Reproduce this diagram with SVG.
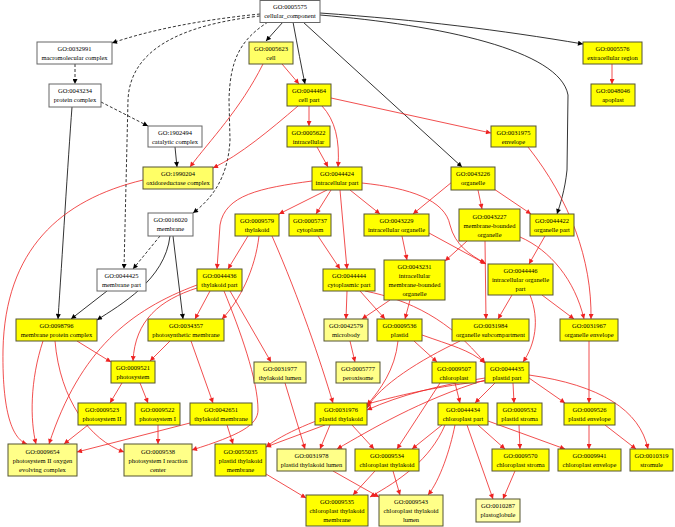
<svg xmlns="http://www.w3.org/2000/svg" width="675" height="527" viewBox="0 0 675 527">
<style>
.n rect{stroke:#555533;stroke-width:1}
.w rect{fill:#fff;stroke:#666}
.y1 rect{fill:#ffff00}
.y2 rect{fill:#ffff66}
.y3 rect{fill:#ffff88}
.y4 rect{fill:#ffffaa}
text{font-family:"Liberation Serif","DejaVu Serif",serif;font-size:6.5px;fill:#000;text-anchor:middle}
.e path{fill:none;stroke-width:0.8}
.k{stroke:#000;marker-end:url(#ak)}
.d{stroke:#000;stroke-dasharray:3,2;marker-end:url(#ak)}
.r{stroke:#ee2222;marker-end:url(#ar)}
</style>
<defs>
<marker id="ak" viewBox="0 0 10 10" refX="10" refY="5" markerUnits="userSpaceOnUse" markerWidth="6" markerHeight="5" orient="auto"><path d="M0,0L10,5L0,10z" fill="#000"/></marker>
<marker id="ar" viewBox="0 0 10 10" refX="10" refY="5" markerUnits="userSpaceOnUse" markerWidth="6" markerHeight="5" orient="auto"><path d="M0,0L10,5L0,10z" fill="#ee2222"/></marker>
</defs>
<rect width="675" height="527" fill="#fff"/>
<g class="e" id="edges">
<path class="k" d="M283,22L266,41"/>
<path class="k" d="M293,22Q300,60 305,84"/>
<path class="k" d="M303,22L462,167"/>
<path class="k" d="M320,13C420,20 500,30 583,44"/>
<path class="k" d="M320,15C440,25 560,50 568,95L567,170C565,190 560,205 557,214"/>
<path class="k" d="M72,107C68,160 62,260 58,319"/>
<path class="k" d="M175,147L177,167"/>
<path class="k" d="M170,236C165,280 120,305 97,320"/>
<path class="k" d="M173,236L183,319"/>
<path class="k" d="M107,291L71,319"/>
<path class="d" d="M260,14C200,20 150,30 112,43"/>
<path class="d" d="M260,16C180,25 130,50 128,100L124,269"/>
<path class="d" d="M268,22C240,40 230,60 229,100L230,140C228,180 210,200 193,213"/>
<path class="d" d="M75,64L75,84"/>
<path class="d" d="M101,102L148,126"/>
<path class="d" d="M160,236L133,269"/>
<path class="r" d="M282,64L299,84"/>
<path class="r" d="M263,64C240,110 210,140 190,167"/>
<path class="r" d="M298,106C270,130 240,155 213,168"/>
<path class="r" d="M309,106L309,126"/>
<path class="r" d="M322,106C335,120 340,140 338,167"/>
<path class="r" d="M331,98L491,133"/>
<path class="r" d="M317,147L328,167"/>
<path class="r" d="M327,190L279,214"/>
<path class="r" d="M331,190L316,214"/>
<path class="r" d="M350,190L380,214"/>
<path class="r" d="M340,190L347,269"/>
<path class="r" d="M312,181C260,188 225,195 220,225L217,269"/>
<path class="r" d="M362,183C410,188 445,200 450,225C455,245 470,255 485,263"/>
<path class="r" d="M452,182L413,214"/>
<path class="r" d="M478,190L482,209"/>
<path class="r" d="M494,189L531,214"/>
<path class="r" d="M402,236L407,260"/>
<path class="r" d="M429,233L486,264"/>
<path class="r" d="M467,241L445,261"/>
<path class="r" d="M485,241L486,319"/>
<path class="r" d="M520,237C550,250 575,280 584,319"/>
<path class="r" d="M528,147C570,200 592,260 591,319"/>
<path class="r" d="M545,236L529,264"/>
<path class="r" d="M512,295L498,319"/>
<path class="r" d="M542,295L574,319"/>
<path class="r" d="M530,295C540,320 535,345 523,362"/>
<path class="r" d="M318,236L340,269"/>
<path class="r" d="M248,236L228,269"/>
<path class="r" d="M259,236C255,270 240,300 222,319"/>
<path class="r" d="M272,236C300,300 320,360 333,403"/>
<path class="r" d="M210,291L195,319"/>
<path class="r" d="M197,288C160,300 135,320 133,361"/>
<path class="r" d="M197,285C130,310 80,350 49,444"/>
<path class="r" d="M230,291L271,362"/>
<path class="r" d="M224,291C240,330 258,380 258,410C258,425 240,435 192,450"/>
<path class="r" d="M77,341L111,362"/>
<path class="r" d="M43,341C30,380 30,420 36,444"/>
<path class="r" d="M55,341C60,400 90,440 124,452"/>
<path class="r" d="M143,180C60,200 5,250 3,350C2,420 15,440 27,444"/>
<path class="r" d="M170,341L150,361"/>
<path class="r" d="M191,341L213,403"/>
<path class="r" d="M122,383L110,403"/>
<path class="r" d="M140,383L148,403"/>
<path class="r" d="M88,425L64,444"/>
<path class="r" d="M158,425L158,444"/>
<path class="r" d="M190,423L77,452"/>
<path class="r" d="M227,425L233,444"/>
<path class="r" d="M347,291L346,319"/>
<path class="r" d="M360,291L385,319"/>
<path class="r" d="M365,291C410,300 450,320 485,363"/>
<path class="r" d="M390,300L362,319"/>
<path class="r" d="M410,300L405,319"/>
<path class="r" d="M350,341L355,362"/>
<path class="r" d="M414,341L437,362"/>
<path class="r" d="M422,335C450,345 470,350 485,363"/>
<path class="r" d="M398,341C395,370 380,390 367,405"/>
<path class="r" d="M460,341C420,360 380,385 367,408"/>
<path class="r" d="M589,341L589,403"/>
<path class="r" d="M455,383L460,403"/>
<path class="r" d="M440,383L397,449"/>
<path class="r" d="M495,383L475,403"/>
<path class="r" d="M513,383L514,403"/>
<path class="r" d="M529,378L565,403"/>
<path class="r" d="M529,375C600,385 640,410 648,449"/>
<path class="r" d="M485,378C440,385 400,395 367,410"/>
<path class="r" d="M485,380C420,400 370,430 337,449"/>
<path class="r" d="M485,381C400,390 300,420 266,447"/>
<path class="r" d="M325,425L266,447"/>
<path class="r" d="M330,425L320,449"/>
<path class="r" d="M352,425L374,449"/>
<path class="r" d="M285,383L305,449"/>
<path class="r" d="M442,425L412,449"/>
<path class="r" d="M478,425L505,449"/>
<path class="r" d="M488,421L565,449"/>
<path class="r" d="M467,425L493,499"/>
<path class="r" d="M455,425C450,450 440,480 428,495"/>
<path class="r" d="M445,425C430,460 400,480 370,497"/>
<path class="r" d="M519,425L520,449"/>
<path class="r" d="M589,425L589,449"/>
<path class="r" d="M605,425L636,449"/>
<path class="r" d="M515,471L503,499"/>
<path class="r" d="M375,471L353,495"/>
<path class="r" d="M393,471L400,495"/>
<path class="r" d="M266,474L306,498"/>
<path class="r" d="M333,471L379,497"/>
<path class="r" d="M612,64L612,84"/>
</g>
<g id="n0005575" class="n w"><rect x="260" y="0.5" width="60" height="22"/><text x="290" y="9">GO:0005575</text><text x="290" y="18">cellular_component</text></g>
<g id="n0032991" class="n w"><rect x="37" y="42" width="75" height="22"/><text x="74.5" y="50.5">GO:0032991</text><text x="74.5" y="59.5">macromolecular complex</text></g>
<g id="n0043234" class="n w"><rect x="49" y="84" width="52" height="23"/><text x="75" y="93">GO:0043234</text><text x="75" y="102">protein complex</text></g>
<g id="n1902494" class="n w"><rect x="148" y="126" width="54" height="21"/><text x="175" y="134.5">GO:1902494</text><text x="175" y="143.5">catalytic complex</text></g>
<g id="n1990204" class="n y2"><rect x="143" y="167" width="70" height="22"/><text x="178" y="175.5">GO:1990204</text><text x="178" y="184.5">oxidoreductase complex</text></g>
<g id="n0016020" class="n w"><rect x="148" y="213" width="45" height="23"/><text x="170.5" y="222">GO:0016020</text><text x="170.5" y="231">membrane</text></g>
<g id="n0044425" class="n w"><rect x="97" y="269" width="49" height="22"/><text x="121.5" y="277.5">GO:0044425</text><text x="121.5" y="286.5">membrane part</text></g>
<g id="n0098796" class="n y1"><rect x="16" y="319" width="81" height="22"/><text x="56.5" y="327.5">GO:0098796</text><text x="56.5" y="336.5">membrane protein complex</text></g>
<g id="n0034357" class="n y1"><rect x="148" y="319" width="76" height="22"/><text x="186" y="327.5">GO:0034357</text><text x="186" y="336.5">photosynthetic membrane</text></g>
<g id="n0009521" class="n y1"><rect x="111" y="361" width="44" height="22"/><text x="133" y="369.5">GO:0009521</text><text x="133" y="378.5">photosystem</text></g>
<g id="n0044436" class="n y1"><rect x="197" y="269" width="45" height="22"/><text x="219.5" y="277.5">GO:0044436</text><text x="219.5" y="286.5">thylakoid part</text></g>
<g id="n0009523" class="n y1"><rect x="78" y="403" width="48" height="22"/><text x="102" y="411.5">GO:0009523</text><text x="102" y="420.5">photosystem II</text></g>
<g id="n0009522" class="n y1"><rect x="135" y="403" width="45" height="22"/><text x="157.5" y="411.5">GO:0009522</text><text x="157.5" y="420.5">photosystem I</text></g>
<g id="n0042651" class="n y1"><rect x="190" y="403" width="62" height="22"/><text x="221" y="411.5">GO:0042651</text><text x="221" y="420.5">thylakoid membrane</text></g>
<g id="n0009654" class="n y3"><rect x="8" y="444" width="69" height="32"/><text x="42.5" y="453.5">GO:0009654</text><text x="42.5" y="462.5">photosystem II oxygen</text><text x="42.5" y="471.5">evolving complex</text></g>
<g id="n0009538" class="n y3"><rect x="124" y="444" width="68" height="32"/><text x="158" y="453.5">GO:0009538</text><text x="158" y="462.5">photosystem I reaction</text><text x="158" y="471.5">center</text></g>
<g id="n0055035" class="n y1"><rect x="215" y="444" width="51" height="32"/><text x="240.5" y="453.5">GO:0055035</text><text x="240.5" y="462.5">plastid thylakoid</text><text x="240.5" y="471.5">membrane</text></g>
<g id="n0031977" class="n y3"><rect x="254" y="362" width="52" height="21"/><text x="280" y="370.5">GO:0031977</text><text x="280" y="379.5">thylakoid lumen</text></g>
<g id="n0009579" class="n y1"><rect x="235" y="214" width="44" height="22"/><text x="257" y="222.5">GO:0009579</text><text x="257" y="231.5">thylakoid</text></g>
<g id="n0005737" class="n y1"><rect x="289" y="214" width="42" height="22"/><text x="310" y="222.5">GO:0005737</text><text x="310" y="231.5">cytoplasm</text></g>
<g id="n0043229" class="n y1"><rect x="364" y="214" width="65" height="22"/><text x="396.5" y="222.5">GO:0043229</text><text x="396.5" y="231.5">intracellular organelle</text></g>
<g id="n0044424" class="n y1"><rect x="312" y="167" width="50" height="23"/><text x="337" y="176">GO:0044424</text><text x="337" y="185">intracellular part</text></g>
<g id="n0005622" class="n y1"><rect x="287" y="126" width="43" height="21"/><text x="308.5" y="134.5">GO:0005622</text><text x="308.5" y="143.5">intracellular</text></g>
<g id="n0005623" class="n y2"><rect x="249" y="42" width="44" height="22"/><text x="271" y="50.5">GO:0005623</text><text x="271" y="59.5">cell</text></g>
<g id="n0044464" class="n y1"><rect x="287" y="84" width="44" height="22"/><text x="309" y="92.5">GO:0044464</text><text x="309" y="101.5">cell part</text></g>
<g id="n0005576" class="n y1"><rect x="583" y="42" width="59" height="22"/><text x="612.5" y="50.5">GO:0005576</text><text x="612.5" y="59.5">extracellular region</text></g>
<g id="n0048046" class="n y1"><rect x="591" y="84" width="44" height="22"/><text x="613" y="92.5">GO:0048046</text><text x="613" y="101.5">apoplast</text></g>
<g id="n0031975" class="n y1"><rect x="491" y="126" width="45" height="21"/><text x="513.5" y="134.5">GO:0031975</text><text x="513.5" y="143.5">envelope</text></g>
<g id="n0043226" class="n y1"><rect x="451" y="167" width="44" height="23"/><text x="473" y="176">GO:0043226</text><text x="473" y="185">organelle</text></g>
<g id="n0043227" class="n y1"><rect x="459" y="209" width="61" height="32"/><text x="489.5" y="218.5">GO:0043227</text><text x="489.5" y="227.5">membrane-bounded</text><text x="489.5" y="236.5">organelle</text></g>
<g id="n0044422" class="n y1"><rect x="530" y="214" width="44" height="22"/><text x="552" y="222.5">GO:0044422</text><text x="552" y="231.5">organelle part</text></g>
<g id="n0043231" class="n y1"><rect x="384" y="260" width="61" height="40"/><text x="414.5" y="268.5">GO:0043231</text><text x="414.5" y="277.5">intracellular</text><text x="414.5" y="286.5">membrane-bounded</text><text x="414.5" y="295.5">organelle</text></g>
<g id="n0044444" class="n y1"><rect x="323" y="269" width="52" height="22"/><text x="349" y="277.5">GO:0044444</text><text x="349" y="286.5">cytoplasmic part</text></g>
<g id="n0044446" class="n y1"><rect x="488" y="264" width="65" height="31"/><text x="520.5" y="273">GO:0044446</text><text x="520.5" y="282">intracellular organelle</text><text x="520.5" y="291">part</text></g>
<g id="n0042579" class="n y3"><rect x="324" y="319" width="44" height="22"/><text x="346" y="327.5">GO:0042579</text><text x="346" y="336.5">microbody</text></g>
<g id="n0009536" class="n y1"><rect x="377" y="319" width="45" height="22"/><text x="399.5" y="327.5">GO:0009536</text><text x="399.5" y="336.5">plastid</text></g>
<g id="n0031984" class="n y1"><rect x="452" y="319" width="77" height="22"/><text x="490.5" y="327.5">GO:0031984</text><text x="490.5" y="336.5">organelle subcompartment</text></g>
<g id="n0031967" class="n y1"><rect x="560" y="319" width="58" height="22"/><text x="589" y="327.5">GO:0031967</text><text x="589" y="336.5">organelle envelope</text></g>
<g id="n0005777" class="n y3"><rect x="336" y="362" width="44" height="21"/><text x="358" y="370.5">GO:0005777</text><text x="358" y="379.5">peroxisome</text></g>
<g id="n0009507" class="n y1"><rect x="432" y="362" width="44" height="21"/><text x="454" y="370.5">GO:0009507</text><text x="454" y="379.5">chloroplast</text></g>
<g id="n0044435" class="n y1"><rect x="485" y="362" width="44" height="21"/><text x="507" y="370.5">GO:0044435</text><text x="507" y="379.5">plastid part</text></g>
<g id="n0031976" class="n y1"><rect x="315" y="403" width="52" height="22"/><text x="341" y="411.5">GO:0031976</text><text x="341" y="420.5">plastid thylakoid</text></g>
<g id="n0044434" class="n y1"><rect x="438" y="403" width="50" height="22"/><text x="463" y="411.5">GO:0044434</text><text x="463" y="420.5">chloroplast part</text></g>
<g id="n0009532" class="n y1"><rect x="497" y="403" width="45" height="22"/><text x="519.5" y="411.5">GO:0009532</text><text x="519.5" y="420.5">plastid stroma</text></g>
<g id="n0009526" class="n y1"><rect x="564" y="403" width="51" height="22"/><text x="589.5" y="411.5">GO:0009526</text><text x="589.5" y="420.5">plastid envelope</text></g>
<g id="n0031978" class="n y3"><rect x="277" y="449" width="69" height="22"/><text x="311.5" y="457.5">GO:0031978</text><text x="311.5" y="466.5">plastid thylakoid lumen</text></g>
<g id="n0009534" class="n y1"><rect x="355" y="449" width="64" height="22"/><text x="387" y="457.5">GO:0009534</text><text x="387" y="466.5">chloroplast thylakoid</text></g>
<g id="n0009570" class="n y1"><rect x="492" y="449" width="57" height="22"/><text x="520.5" y="457.5">GO:0009570</text><text x="520.5" y="466.5">chloroplast stroma</text></g>
<g id="n0009941" class="n y1"><rect x="558" y="449" width="63" height="22"/><text x="589.5" y="457.5">GO:0009941</text><text x="589.5" y="466.5">chloroplast envelope</text></g>
<g id="n0010319" class="n y1"><rect x="630" y="449" width="43" height="22"/><text x="651.5" y="457.5">GO:0010319</text><text x="651.5" y="466.5">stromule</text></g>
<g id="n0009535" class="n y1"><rect x="306" y="495" width="62" height="31"/><text x="337" y="504">GO:0009535</text><text x="337" y="513">chloroplast thylakoid</text><text x="337" y="522">membrane</text></g>
<g id="n0009543" class="n y3"><rect x="379" y="495" width="64" height="31"/><text x="411" y="504">GO:0009543</text><text x="411" y="513">chloroplast thylakoid</text><text x="411" y="522">lumen</text></g>
<g id="n0010287" class="n y4"><rect x="476" y="499" width="44" height="23"/><text x="498" y="508">GO:0010287</text><text x="498" y="517">plastoglobule</text></g>
</svg>
